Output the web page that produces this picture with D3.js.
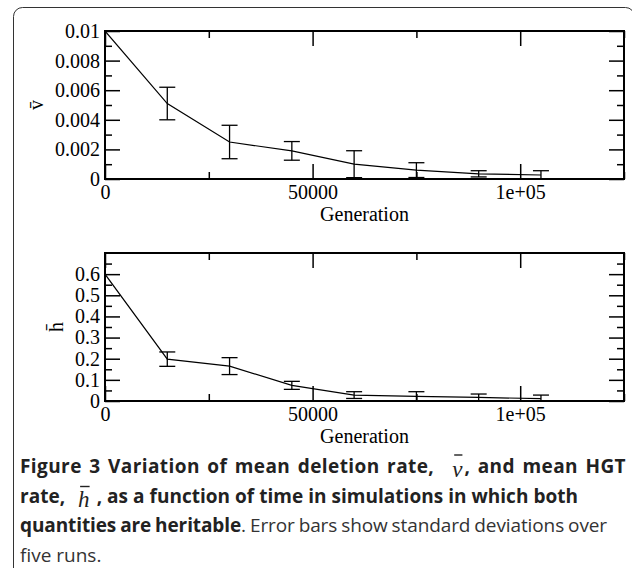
<!DOCTYPE html>
<html>
<head>
<meta charset="utf-8">
<script src="https://cdn.jsdelivr.net/npm/d3@7"></script>
<style>
  body { margin: 0; background: #fff; }
  svg { display: block; }
</style>
</head>
<body>
<svg id="fig" width="632" height="568"></svg>
<script>
// generations sampled in the simulations
var generations = [0, 15000, 30000, 45000, 60000, 75000, 90000, 105000];

// mean deletion rate and its standard deviation
var vMean = [0.01, 0.0051, 0.0025, 0.0019, 0.001, 0.0006, 0.00035, 0.00027];
var vSd   = [0, 0.0011, 0.00113, 0.00063, 0.00091, 0.0005, 0.00021, 0.00029];

// mean HGT rate and its standard deviation
var hMean = [0.6, 0.198, 0.165, 0.074, 0.028, 0.022, 0.017, 0.011];
var hSd   = [0, 0.034, 0.04, 0.019, 0.016, 0.022, 0.016, 0.017];

var xMajor = [0, 50000, 100000];
var xMinor = [25000, 75000, 125000];
var xTickLabels = ["0", "50000", "1e+05"];

var vMajor = [0, 0.002, 0.004, 0.006, 0.008, 0.01];
var vMinor = [0.001, 0.003, 0.005, 0.007, 0.009];
var vTickLabels = ["0", "0.002", "0.004", "0.006", "0.008", "0.01"];

var hMajor = [0, 0.1, 0.2, 0.3, 0.4, 0.5, 0.6];
var hMinor = [0.05, 0.15, 0.25, 0.35, 0.45, 0.55, 0.65];
var hTickLabels = ["0", "0.1", "0.2", "0.3", "0.4", "0.5", "0.6"];

var serif = "'Liberation Serif', 'Times New Roman', serif";
var sans = "'Open Sans', 'Noto Sans', sans-serif";

var svg = d3.select("#fig");

// rounded box round the figure
svg.append("rect")
    .attr("x", 13.5).attr("y", 7.5)
    .attr("width", 621).attr("height", 600)
    .attr("rx", 9)
    .attr("fill", "none")
    .attr("stroke", "#333")
    .attr("stroke-width", 1);

var left = 105, right = 624;
var x = d3.scaleLinear().domain([0, 125000]).range([left, right]);

function panel(cfg) {
    var y = d3.scaleLinear().domain(cfg.domain).range([cfg.bottom, cfg.top]);
    var g = svg.append("g");
    var id = "clip" + cfg.name;

    g.append("clipPath").attr("id", id)
        .append("rect")
        .attr("x", left).attr("y", cfg.top)
        .attr("width", right - left).attr("height", cfg.bottom - cfg.top);

    function styleAxis(sel) {
        sel.select(".domain").remove();
        sel.selectAll("line").attr("stroke", "#000").attr("stroke-width", 1.5);
        sel.selectAll("text")
            .attr("font-family", serif)
            .attr("font-size", 20)
            .attr("fill", "#000");
    }

    // left axis with labels
    g.append("g").attr("transform", "translate(" + left + ",0)")
        .call(d3.axisLeft(y).tickValues(cfg.major).tickSizeInner(-15).tickSizeOuter(0).tickPadding(5)
            .tickFormat(function(d, i) { return cfg.labels[i]; }))
        .call(styleAxis);
    g.append("g").attr("transform", "translate(" + left + ",0)")
        .call(d3.axisLeft(y).tickValues(cfg.minor).tickSizeInner(-7).tickSizeOuter(0).tickFormat(""))
        .call(styleAxis);

    // right axis
    g.append("g").attr("transform", "translate(" + right + ",0)")
        .call(d3.axisRight(y).tickValues(cfg.major).tickSizeInner(-15).tickSizeOuter(0).tickFormat(""))
        .call(styleAxis);
    g.append("g").attr("transform", "translate(" + right + ",0)")
        .call(d3.axisRight(y).tickValues(cfg.minor).tickSizeInner(-7).tickSizeOuter(0).tickFormat(""))
        .call(styleAxis);

    // bottom axis with labels
    g.append("g").attr("transform", "translate(0," + cfg.bottom + ")")
        .call(d3.axisBottom(x).tickValues(xMajor).tickSizeInner(-15).tickSizeOuter(0).tickPadding(6)
            .tickFormat(function(d, i) { return xTickLabels[i]; }))
        .call(styleAxis);
    g.append("g").attr("transform", "translate(0," + cfg.bottom + ")")
        .call(d3.axisBottom(x).tickValues(xMinor).tickSizeInner(-7).tickSizeOuter(0).tickFormat(""))
        .call(styleAxis);

    // top axis
    g.append("g").attr("transform", "translate(0," + cfg.top + ")")
        .call(d3.axisTop(x).tickValues(xMajor).tickSizeInner(-15).tickSizeOuter(0).tickFormat(""))
        .call(styleAxis);
    g.append("g").attr("transform", "translate(0," + cfg.top + ")")
        .call(d3.axisTop(x).tickValues(xMinor).tickSizeInner(-7).tickSizeOuter(0).tickFormat(""))
        .call(styleAxis);

    // frame
    g.append("rect")
        .attr("x", left).attr("y", cfg.top)
        .attr("width", right - left).attr("height", cfg.bottom - cfg.top)
        .attr("fill", "none").attr("stroke", "#000").attr("stroke-width", 2);

    var plot = g.append("g").attr("clip-path", "url(#" + id + ")");

    var line = d3.line()
        .x(function(d, i) { return x(generations[i]); })
        .y(function(d) { return y(d); });

    plot.append("path")
        .datum(cfg.mean)
        .attr("d", line)
        .attr("fill", "none")
        .attr("stroke", "#000")
        .attr("stroke-width", 1.2);

    var bars = generations.map(function(gen, i) {
        return { gen: gen, m: cfg.mean[i], s: cfg.sd[i] };
    }).filter(function(d) { return d.s > 0; });

    var eb = plot.selectAll("g.eb").data(bars).enter().append("g").attr("class", "eb")
        .attr("stroke", "#000").attr("stroke-width", 1.3);
    eb.append("line")
        .attr("x1", function(d) { return x(d.gen); })
        .attr("x2", function(d) { return x(d.gen); })
        .attr("y1", function(d) { return y(d.m - d.s); })
        .attr("y2", function(d) { return y(d.m + d.s); });
    eb.append("line")
        .attr("x1", function(d) { return x(d.gen) - 8; })
        .attr("x2", function(d) { return x(d.gen) + 8; })
        .attr("y1", function(d) { return y(d.m + d.s); })
        .attr("y2", function(d) { return y(d.m + d.s); });
    eb.append("line")
        .attr("x1", function(d) { return x(d.gen) - 8; })
        .attr("x2", function(d) { return x(d.gen) + 8; })
        .attr("y1", function(d) { return y(d.m - d.s); })
        .attr("y2", function(d) { return y(d.m - d.s); });

    // axis titles
    g.append("text")
        .attr("x", (left + right) / 2).attr("y", cfg.bottom + 42)
        .attr("text-anchor", "middle")
        .attr("font-family", serif).attr("font-size", 20)
        .text("Generation");

    g.append("text")
        .attr("transform", "translate(" + cfg.labelX + "," + (cfg.top + cfg.bottom) / 2 + ") rotate(-90)")
        .attr("text-anchor", "middle")
        .attr("dy", "0.3em")
        .attr("font-family", serif).attr("font-size", 20)
        .text(cfg.title);
}

panel({ name: "v", top: 31, bottom: 179, domain: [0, 0.01], major: vMajor, minor: vMinor,
        labels: vTickLabels, mean: vMean, sd: vSd, title: "v\u0304", labelX: 37 });
panel({ name: "h", top: 253, bottom: 401, domain: [0, 0.7], major: hMajor, minor: hMinor,
        labels: hTickLabels, mean: hMean, sd: hSd, title: "h\u0304", labelX: 57 });

// caption, laid out piece by piece; each line is stretched to the width it has in the figure
var captionLines = [
    [{ t: "Figure 3 Variation of mean deletion rate,  ", b: true }, { m: "\u03bd" },
     { t: ", and mean HGT", b: true }],
    [{ t: "rate,  ", b: true }, { m: "h" },
     { t: " , as a function of time in simulations in which both", b: true }],
    [{ t: "quantities are heritable", b: true }, { t: ". Error bars show standard deviations over", b: false }],
    [{ t: "five runs.", b: false }]
];
var captionEnds = [626, 578, 607, null];
var capX = 20, capY = 473, capStep = 29.5, capSize = 19;

function layLine(parts, by, ws, ls) {
    var grp = svg.append("g");
    var cx = capX;
    parts.forEach(function(p) {
        var t;
        if (p.m) {
            t = grp.append("text")
                .attr("x", cx + 3).attr("y", by + 4)
                .attr("font-family", serif).attr("font-style", "italic")
                .attr("font-size", 23).attr("fill", "#222")
                .text(p.m);
            var w = t.node().getComputedTextLength();
            var barY = p.m === "h" ? by - 16 : by - 18;
            grp.append("line")
                .attr("x1", cx + 5).attr("x2", cx + 5 + Math.max(w - 2, 8))
                .attr("y1", barY).attr("y2", barY)
                .attr("stroke", "#222").attr("stroke-width", 1.4);
            cx += w + 5;
        } else {
            t = grp.append("text")
                .attr("x", cx).attr("y", by)
                .attr("font-family", sans)
                .attr("font-size", capSize)
                .attr("font-weight", p.b ? 700 : 400)
                .attr("fill", p.b ? "#222" : "#333")
                .attr("word-spacing", ws)
                .attr("letter-spacing", ls)
                .attr("xml:space", "preserve")
                .style("white-space", "pre")
                .text(p.t);
            cx += t.node().getComputedTextLength();
        }
    });
    return { g: grp, end: cx };
}

captionLines.forEach(function(parts, li) {
    var by = capY + li * capStep;
    var first = layLine(parts, by, 0, 0);
    if (captionEnds[li] === null) return;
    var spaces = 0, chars = 0;
    parts.forEach(function(p) {
        if (p.t) { spaces += (p.t.match(/ /g) || []).length; chars += p.t.length; }
    });
    var extra = captionEnds[li] - first.end;
    first.g.remove();
    layLine(parts, by, extra * 0.5 / spaces, extra * 0.5 / chars);
});
</script>
</body>
</html>
